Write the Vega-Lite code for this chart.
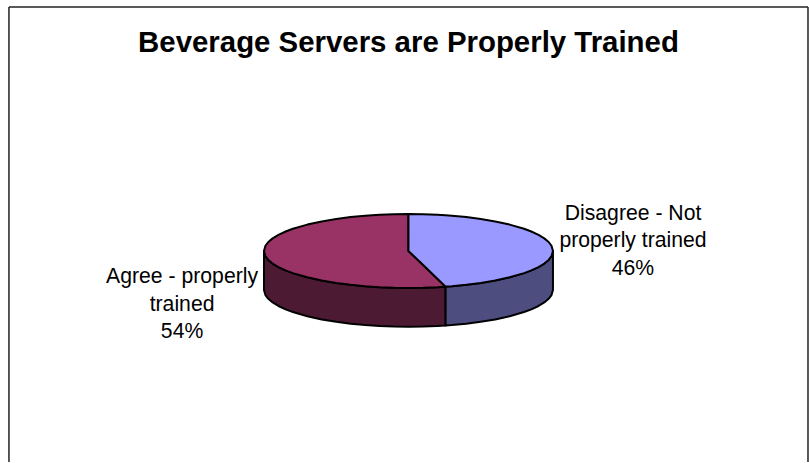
{
"$schema":"https://vega.github.io/schema/vega-lite/v6.json",
"width":809,"height":463,"padding":0,
"autosize":{"type":"fit","contains":"padding"},
"background":"white",
"config":{"view":{"stroke":null}},
"layer":[
{"data":{"values":[
{"x":-2.765,"y":-5.716,"x2":-2.765,"y2":6.608},
{"x":-2.765,"y":6.608,"x2":2.765,"y2":6.608},
{"x":2.765,"y":6.608,"x2":2.765,"y2":-5.716}]},
"mark":{"type":"rule","stroke":"#222222","strokeWidth":1.5},
"encoding":{
"x":{"field":"x","type":"quantitative","scale":{"domain":[-2.827,2.772]},"axis":null},
"y":{"field":"y","type":"quantitative","scale":{"domain":[-5.716,6.797]},"axis":null},
"x2":{"field":"x2"},"y2":{"field":"y2"}}},
{"data":{"values":[
{"p":"Agree side","u":-1,"y":0,"y2":-1.054},
{"p":"Agree side","u":-0.99,"y":-0.141,"y2":-1.195},
{"p":"Agree side","u":-0.97,"y":-0.243,"y2":-1.297},
{"p":"Agree side","u":-0.94,"y":-0.341,"y2":-1.395},
{"p":"Agree side","u":-0.9,"y":-0.436,"y2":-1.49},
{"p":"Agree side","u":-0.85,"y":-0.527,"y2":-1.581},
{"p":"Agree side","u":-0.8,"y":-0.6,"y2":-1.654},
{"p":"Agree side","u":-0.7,"y":-0.714,"y2":-1.768},
{"p":"Agree side","u":-0.6,"y":-0.8,"y2":-1.854},
{"p":"Agree side","u":-0.5,"y":-0.866,"y2":-1.92},
{"p":"Agree side","u":-0.4,"y":-0.917,"y2":-1.971},
{"p":"Agree side","u":-0.3,"y":-0.954,"y2":-2.008},
{"p":"Agree side","u":-0.2,"y":-0.98,"y2":-2.034},
{"p":"Agree side","u":-0.1,"y":-0.995,"y2":-2.049},
{"p":"Agree side","u":0,"y":-1,"y2":-2.054},
{"p":"Agree side","u":0.1,"y":-0.995,"y2":-2.049},
{"p":"Agree side","u":0.2,"y":-0.98,"y2":-2.034},
{"p":"Agree side","u":0.257,"y":-0.966,"y2":-2.02},
{"p":"Disagree side","u":0.257,"y":-0.966,"y2":-2.02},
{"p":"Disagree side","u":0.3,"y":-0.954,"y2":-2.008},
{"p":"Disagree side","u":0.4,"y":-0.917,"y2":-1.971},
{"p":"Disagree side","u":0.5,"y":-0.866,"y2":-1.92},
{"p":"Disagree side","u":0.6,"y":-0.8,"y2":-1.854},
{"p":"Disagree side","u":0.7,"y":-0.714,"y2":-1.768},
{"p":"Disagree side","u":0.8,"y":-0.6,"y2":-1.654},
{"p":"Disagree side","u":0.85,"y":-0.527,"y2":-1.581},
{"p":"Disagree side","u":0.9,"y":-0.436,"y2":-1.49},
{"p":"Disagree side","u":0.94,"y":-0.341,"y2":-1.395},
{"p":"Disagree side","u":0.97,"y":-0.243,"y2":-1.297},
{"p":"Disagree side","u":0.99,"y":-0.141,"y2":-1.195},
{"p":"Disagree side","u":1,"y":0,"y2":-1.054},
{"p":"Agree top","u":-1,"y":0,"y2":0},
{"p":"Agree top","u":-0.99,"y":0.141,"y2":-0.141},
{"p":"Agree top","u":-0.97,"y":0.243,"y2":-0.243},
{"p":"Agree top","u":-0.94,"y":0.341,"y2":-0.341},
{"p":"Agree top","u":-0.9,"y":0.436,"y2":-0.436},
{"p":"Agree top","u":-0.85,"y":0.527,"y2":-0.527},
{"p":"Agree top","u":-0.8,"y":0.6,"y2":-0.6},
{"p":"Agree top","u":-0.7,"y":0.714,"y2":-0.714},
{"p":"Agree top","u":-0.6,"y":0.8,"y2":-0.8},
{"p":"Agree top","u":-0.5,"y":0.866,"y2":-0.866},
{"p":"Agree top","u":-0.4,"y":0.917,"y2":-0.917},
{"p":"Agree top","u":-0.3,"y":0.954,"y2":-0.954},
{"p":"Agree top","u":-0.2,"y":0.98,"y2":-0.98},
{"p":"Agree top","u":-0.1,"y":0.995,"y2":-0.995},
{"p":"Agree top","u":0,"y":1,"y2":-1},
{"p":"Agree top","u":0,"y":0,"y2":-1},
{"p":"Agree top","u":0.1,"y":-0.376,"y2":-0.995},
{"p":"Agree top","u":0.2,"y":-0.752,"y2":-0.98},
{"p":"Agree top","u":0.257,"y":-0.966,"y2":-0.966},
{"p":"Disagree top","u":0,"y":1,"y2":0},
{"p":"Disagree top","u":0.1,"y":0.995,"y2":-0.376},
{"p":"Disagree top","u":0.2,"y":0.98,"y2":-0.752},
{"p":"Disagree top","u":0.257,"y":0.966,"y2":-0.966},
{"p":"Disagree top","u":0.3,"y":0.954,"y2":-0.954},
{"p":"Disagree top","u":0.4,"y":0.917,"y2":-0.917},
{"p":"Disagree top","u":0.5,"y":0.866,"y2":-0.866},
{"p":"Disagree top","u":0.6,"y":0.8,"y2":-0.8},
{"p":"Disagree top","u":0.7,"y":0.714,"y2":-0.714},
{"p":"Disagree top","u":0.8,"y":0.6,"y2":-0.6},
{"p":"Disagree top","u":0.85,"y":0.527,"y2":-0.527},
{"p":"Disagree top","u":0.9,"y":0.436,"y2":-0.436},
{"p":"Disagree top","u":0.94,"y":0.341,"y2":-0.341},
{"p":"Disagree top","u":0.97,"y":0.243,"y2":-0.243},
{"p":"Disagree top","u":0.99,"y":0.141,"y2":-0.141},
{"p":"Disagree top","u":1,"y":0,"y2":0}
]},
"mark":{"type":"area","stroke":"black","strokeWidth":2,"strokeJoin":"round"},
"encoding":{
"x":{"field":"u","type":"quantitative","scale":{"domain":[-2.827,2.772]},"axis":null},
"y":{"field":"y","type":"quantitative","scale":{"domain":[-5.716,6.797]},"axis":null},
"y2":{"field":"y2"},
"fill":{"field":"p","type":"nominal","legend":null,"scale":{"domain":["Agree side","Disagree side","Agree top","Disagree top"],"range":["#4D1A33","#4D4D80","#993366","#9999FF"]}}}},
{"data":{"values":[
{"label":"Disagree - Not\nproperly trained\n46%","x":1.554,"y":1.013},
{"label":"Agree - properly\ntrained\n54%","x":-1.567,"y":-0.716}]},
"mark":{"type":"text","font":"Liberation Sans","fontSize":21.2,"lineBreak":"\n","lineHeight":27.5,"align":"center","baseline":"middle","color":"black"},
"encoding":{
"x":{"field":"x","type":"quantitative","scale":{"domain":[-2.827,2.772]},"axis":null},
"y":{"field":"y","type":"quantitative","scale":{"domain":[-5.716,6.797]},"axis":null},
"text":{"field":"label"}}},
{"data":{"values":[{"label":"Beverage Servers are Properly Trained","x":0,"y":5.63}]},
"mark":{"type":"text","font":"Liberation Sans","fontSize":29.4,"fontWeight":"bold","align":"center","baseline":"middle","color":"black"},
"encoding":{
"x":{"field":"x","type":"quantitative","scale":{"domain":[-2.827,2.772]},"axis":null},
"y":{"field":"y","type":"quantitative","scale":{"domain":[-5.716,6.797]},"axis":null},
"text":{"field":"label"}}}
]
}
